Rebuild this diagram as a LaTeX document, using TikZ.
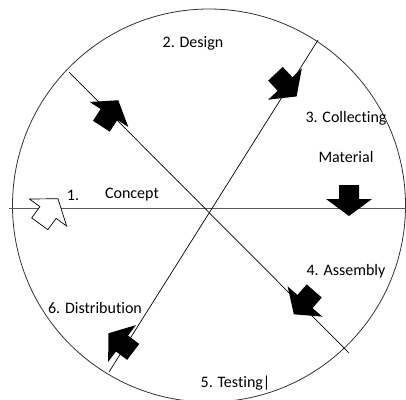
\documentclass[tikz,border=0pt]{standalone}
\usepackage{fontspec}
\setmainfont{Carlito}[Ligatures=NoCommon]
\usepackage{tikz}
\tikzset{
  blockarrow/.pic={
    \path[pic actions] (-14,-10) -- (0,-10) -- (0,-23) -- (17,0) -- (0,23) -- (0,10) -- (-14,10) -- cycle;
  },
  lbl/.style={font=\fontsize{16}{19}\selectfont}
}
\begin{document}
\begin{tikzpicture}[x=1pt,y=-1pt]
 \useasboundingbox (0,0) rectangle (406,399);
 \draw[line width=0.8pt,black!80] (209,205.5) circle (196.5);

 \coordinate (w) at (9,208);
 \coordinate (e) at (406,208);
 \coordinate (nw) at (69,72);
 \coordinate (se) at (349,353);
 \coordinate (ne) at (318,40);
 \coordinate (sw) at (109,372);
 \draw[line width=1pt,black!65] (w) -- (e);
 \draw[line width=0.7pt] (nw) -- (se);
 \draw[line width=0.7pt] (ne) -- (sw);

 \pic[draw=black,fill=white,line width=0.7pt,rotate=54] (toDesign) at (48,212.5) {blockarrow};
 \pic[fill=black,rotate=57] (toCollect) at (109,114.5) {blockarrow};
 \pic[fill=black,rotate=-47] (toMaterial) at (285,84) {blockarrow};
 \pic[fill=black,rotate=-90] (toAssembly) at (349,199) {blockarrow};
 \pic[fill=black,rotate=229] (toTesting) at (305,301.5) {blockarrow};
 \pic[fill=black,rotate=143] (toDistrib) at (122,343.5) {blockarrow};

 \node[lbl] (one) at (73,195) {1.};
 \node[lbl] (concept) at (132,195) {Concept};
 \node[lbl] (design) at (193,43) {2. Design};
 \node[lbl] (collecting) at (346,118) {3. Collecting};
 \node[lbl] (material) at (346,157) {Material};
 \node[lbl] (assembly) at (346,271) {4. Assembly};
 \node[lbl] (testing) at (235.5,383) {5. Testing|};
 \node[lbl] (distribution) at (95,308) {6. Distribution};
\end{tikzpicture}
\end{document}
